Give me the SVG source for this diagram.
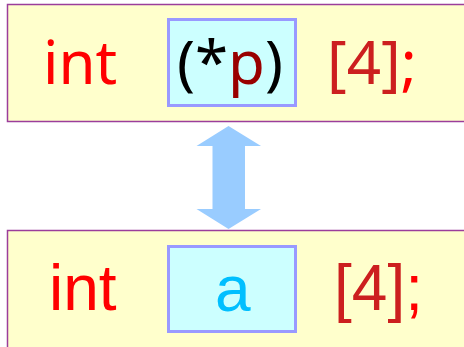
<svg xmlns="http://www.w3.org/2000/svg" width="464" height="347" viewBox="0 0 464 347">
<style>
.outer{fill:#ffffcc;stroke:#9b3d9b;stroke-width:1.5}
.inner{fill:#ccffff;stroke:#9999ff;stroke-width:3}
.top{font-family:"Noto Sans",sans-serif;font-size:60px}
.bot{font-family:"Liberation Sans",Arial,sans-serif;font-size:64px}
.kw{fill:#ff0000}
.br{fill:#cc1f1f}
</style>
<rect width="464" height="347" fill="#ffffff"/>
<g id="top-decl">
<rect class="outer" x="7.5" y="4.5" width="470" height="117"/>
<rect class="inner" x="168.5" y="19.5" width="127" height="86"/>
<text class="top kw" x="43" y="84">int</text>
<text class="top" x="177" y="84" font-size="67"><tspan fill="#000000">(*</tspan><tspan fill="#990000">p</tspan><tspan fill="#000000">)</tspan></text>
<text class="top" x="327" y="84" font-size="67"><tspan class="br">[4]</tspan><tspan class="kw">;</tspan></text>
</g>
<g id="connectors">
<polygon points="228.5,126 261,146 245,146 245,209 261,209 228.5,229 196.5,209 212.5,209 212.5,146 196.5,146" fill="#99ccff"/>
</g>
<g id="bottom-decl">
<rect class="outer" x="7.5" y="230.5" width="470" height="130"/>
<rect class="inner" x="168.5" y="246.5" width="127" height="85"/>
<text class="bot kw" x="49" y="310" font-size="66">int</text>
<text class="bot" x="215" y="311" fill="#00bfff">a</text>
<text class="bot" x="334" y="310"><tspan class="br">[4]</tspan><tspan class="kw">;</tspan></text>
</g>
</svg>
